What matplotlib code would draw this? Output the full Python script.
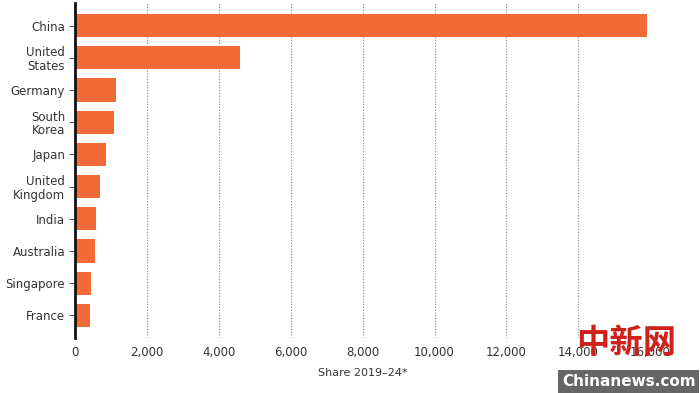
import matplotlib.pyplot as plt
from matplotlib.ticker import FuncFormatter

countries = ["China", "United\nStates", "Germany", "South\nKorea", "Japan",
             "United\nKingdom", "India", "Australia", "Singapore", "France"]
shares = [15900, 4580, 1140, 1090, 860, 690, 600, 570, 450, 430]
xticks = [0, 2000, 4000, 6000, 8000, 10000, 12000, 14000, 16000]

bar_color = "#f26a35"
text_color = "#333333"

plt.rcParams['font.family'] = ['DejaVu Sans']
fig = plt.figure(figsize=(7.0, 3.93), dpi=100)
ax = fig.add_axes([0.107, 0.14, 0.822, 0.852])

ypos = list(range(len(countries)))
ax.barh(ypos, shares, height=0.72, color=bar_color, zorder=3)

ax.set_ylim(len(countries) - 0.3, -0.7)
ax.set_xlim(0, 16000)
ax.set_yticks(ypos)
ax.set_yticklabels(countries, fontsize=8.5, color=text_color, linespacing=1.05)
ax.set_xticks(xticks)
ax.xaxis.set_major_formatter(FuncFormatter(lambda v, p: f"{int(v):,}"))
ax.tick_params(axis='x', length=0, labelsize=8.5, labelcolor=text_color, pad=6)
ax.tick_params(axis='y', length=4, width=0.8, color="#555555", pad=3)

ax.grid(axis='x', linestyle=(0, (1, 1.5)), color="#888888", linewidth=0.8, zorder=0)
for s in ['top', 'right', 'bottom']:
    ax.spines[s].set_visible(False)
ax.spines['left'].set_linewidth(2)
ax.spines['left'].set_color("#111111")
ax.spines['left'].set_zorder(4)

ax.set_xlabel("Share 2019–24*", fontsize=8, color=text_color, labelpad=6)

# watermark
fig.text(0.895, 0.085, "中新网", fontsize=24, color="#d0201a",
         family=['Noto Sans CJK SC', 'DejaVu Sans'], fontweight='bold',
         ha='center', va='bottom', zorder=10)
fig.text(0.898, 0.03, "Chinanews.com", fontsize=11, color="white",
         fontweight='bold', ha='center', va='center', zorder=10,
         bbox=dict(boxstyle='square,pad=0.25', fc="#666666", ec='none'))

fig.savefig("out.png", dpi=100)
